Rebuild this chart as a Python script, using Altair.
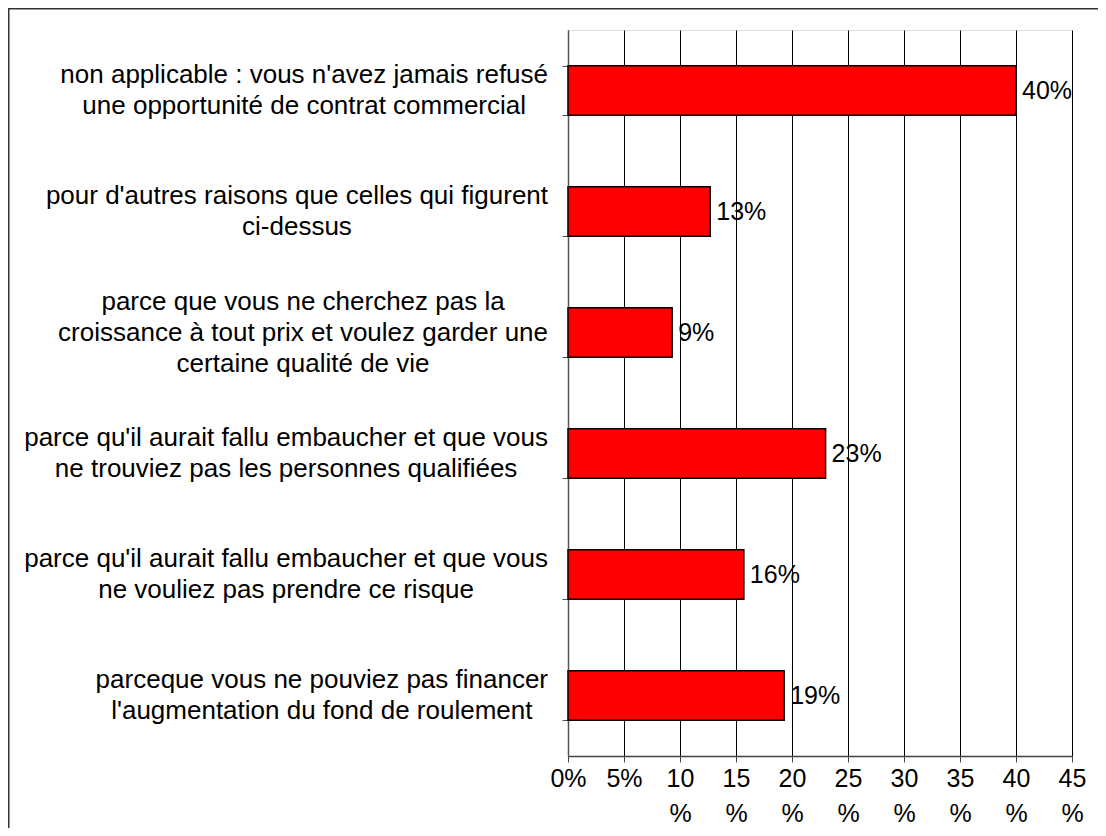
import altair as alt
import pandas as pd

# ---- data ----
categories = [
    "non applicable : vous n'avez jamais refusé|une opportunité de contrat commercial",
    "pour d'autres raisons que celles qui figurent|ci-dessus",
    "parce que vous ne cherchez pas la|croissance à tout prix et voulez garder une|certaine qualité de vie",
    "parce qu'il aurait fallu embaucher et que vous|ne trouviez pas les personnes qualifiées",
    "parce qu'il aurait fallu embaucher et que vous|ne vouliez pas prendre ce risque",
    "parceque vous ne pouviez pas financer|l'augmentation du fond de roulement",
]
values = [40.0, 12.7, 9.3, 23.0, 15.7, 19.3]
value_labels = ["40%", "13%", "9%", "23%", "16%", "19%"]
x_ticks = [0, 5, 10, 15, 20, 25, 30, 35, 40, 45]

# ---- layout / style ----
FONT = "Liberation Sans"
FS = 25          # numbers
FS_CAT = 26      # category labels
LH_CAT = 31
PAD_L, PAD_T, PAD_R, PAD_B = 560, 22, 26, 72
W, H = 504, 726
LABEL_RIGHT = -20  # right edge of category label blocks relative to plot

# Arial / Liberation Sans advance widths (per 1000 em)
ARIAL = {' ': 278, "'": 191, ':': 278, '-': 333, 'é': 556, 'à': 556,
         'a': 556, 'b': 556, 'c': 500, 'd': 556, 'e': 556, 'f': 278, 'g': 556,
         'h': 556, 'i': 222, 'j': 222, 'k': 500, 'l': 222, 'm': 833, 'n': 556,
         'o': 556, 'p': 556, 'q': 556, 'r': 333, 's': 500, 't': 278, 'u': 556,
         'v': 500, 'w': 722, 'x': 500, 'y': 500, 'z': 500}


def text_width(s, fs):
    return sum(ARIAL.get(ch, 556) for ch in s) * fs / 1000.0


block_w = [max(text_width(l, FS_CAT) for l in c.split("|")) for c in categories]
n_lines = [len(c.split("|")) for c in categories]
df = pd.DataFrame({
    "cat": categories,
    "value": values,
    "label": value_labels,
    "cx": [LABEL_RIGHT - w / 2 for w in block_w],
    "n": n_lines,
})

y_enc = alt.Y(
    "cat:N", sort=categories, title=None,
    scale=alt.Scale(paddingInner=0.59, paddingOuter=0.295),
    axis=alt.Axis(labels=False, tickBand="extent", tickSize=6,
                  tickColor="#555", domainColor="#555", domainWidth=1.5,
                  grid=False),
)

base = alt.Chart(df)

bars = base.mark_bar(fill="#FF0000", stroke="black", strokeWidth=1.5).encode(
    x=alt.X("value:Q", title=None,
            scale=alt.Scale(domain=[0, 45], nice=False, zero=True),
            axis=alt.Axis(values=x_ticks, grid=True, gridColor="black",
                          gridWidth=1, gridOpacity=1, tickSize=6,
                          tickColor="#444", domainColor="#444",
                          domainWidth=1.5, labelFont=FONT, labelFontSize=FS,
                          labelColor="black", labelLineHeight=35,
                          labelPadding=4, labelFlush=False,
                          labelOverlap=False,
                          labelExpr="datum.value < 10 ? datum.value + '%' : [datum.value + '', '%']")),
    y=y_enc,
)

value_text = base.mark_text(align="left", baseline="middle", dx=6,
                            font=FONT, fontSize=FS, color="black").encode(
    x=alt.X("value:Q"),
    y=alt.Y("cat:N", sort=categories),
    text="label:N",
)

# one text layer per line count so every block is centred on its band
cat_layers = []
for n in sorted(set(n_lines)):
    cat_layers.append(
        base.transform_filter(f"datum.n == {n}").transform_calculate(
            lines="split(datum.cat, '|')"
        ).mark_text(align="center", baseline="middle", font=FONT,
                    fontSize=FS_CAT, lineHeight=LH_CAT, color="black",
                    dy=-(n - 1) * LH_CAT / 2).encode(
            x=alt.X("cx:Q", scale=None, axis=None),
            y=alt.Y("cat:N", sort=categories),
            text="lines:N",
        )
    )

border = alt.Chart(alt.Data(values=[{"k": 1}])).mark_rect(
    fillOpacity=0, stroke="#333", strokeWidth=1.5).encode(
    x=alt.value(-PAD_L + 0.75), x2=alt.value(2000),
    y=alt.value(-PAD_T + 0.75), y2=alt.value(2000),
)

chart = alt.layer(bars, value_text, *cat_layers, border).properties(
    width=W, height=H,
    padding={"left": PAD_L, "top": PAD_T, "right": PAD_R, "bottom": PAD_B},
    autosize=alt.AutoSizeParams(type="none"),
).configure_view(stroke="#808080", strokeWidth=1).configure(background="white")

chart.save("out.html", embed_options={"renderer": "svg", "actions": False})
